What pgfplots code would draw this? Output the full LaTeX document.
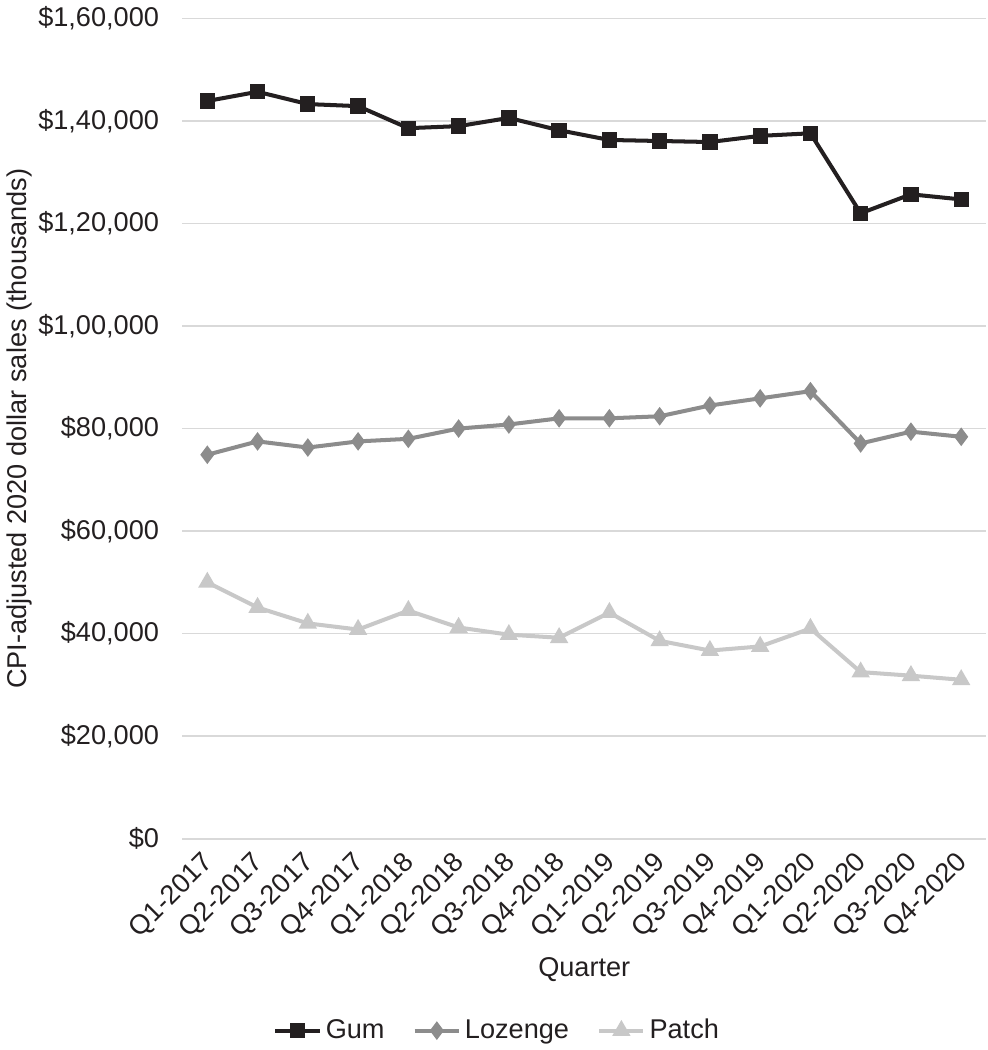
\documentclass[border=0pt]{standalone}
\usepackage{pgfplots}
\pgfplotsset{compat=1.18}
\usepackage{fontspec}
\setmainfont{Liberation Sans}
\definecolor{gumc}{HTML}{231F20}
\definecolor{lozc}{HTML}{8C8C8C}
\definecolor{patc}{HTML}{C8C8C8}
\definecolor{gridc}{HTML}{D9D9D9}
\definecolor{txtc}{HTML}{231F20}

\begin{document}
\begin{tikzpicture}
\begin{axis}[
    width=400pt, height=408pt,
    scale only axis,
    xmin=-0.5, xmax=15.5,
    ymin=0, ymax=160000,
    scaled y ticks=false,
    axis line style={draw=none},
    ymajorgrids=true,
    grid style={gridc, line width=0.8pt},
    xtick={0,...,15},
    xticklabels={Q1-2017,Q2-2017,Q3-2017,Q4-2017,Q1-2018,Q2-2018,Q3-2018,Q4-2018,Q1-2019,Q2-2019,Q3-2019,Q4-2019,Q1-2020,Q2-2020,Q3-2020,Q4-2020},
    ytick={0,20000,40000,60000,80000,100000,120000,140000,160000},
    yticklabels={{\$0},{\$20,000},{\$40,000},{\$60,000},{\$80,000},{\$1,00,000},{\$1,20,000},{\$1,40,000},{\$1,60,000}},
    major tick length=0pt,
    tick style={draw=none},
    tick label style={font=\fontsize{13.5}{15}\selectfont, text=txtc},
    yticklabel style={xshift=-8pt},
    xticklabel style={rotate=45, anchor=north east, xshift=-2.8pt, yshift=1.8pt},
    xlabel={Quarter},
    ylabel={CPI-adjusted 2020 dollar sales (thousands)},
    label style={font=\fontsize{13.5}{15}\selectfont, text=txtc},
    xlabel style={at={(axis description cs:0.5,-0.159)}, anchor=center},
    ylabel style={at={(axis description cs:-0.2025,0.5)}, anchor=center},
    legend columns=3,
    legend style={at={(axis description cs:0.393,-0.234)}, anchor=center, draw=none,
        font=\fontsize{13.5}{15}\selectfont, text=txtc,
        /tikz/every even column/.append style={column sep=12pt}},
    legend image code/.code={
        \draw[#1, mark=none] (0pt,0pt) -- (22pt,0pt);
        \draw[#1, only marks] plot coordinates {(11pt,0pt)};
    },
]
\addplot[gumc, line width=2pt, mark=square*, mark size=2.8pt, mark options={solid}] coordinates {
(0,143900)(1,145700)(2,143300)(3,142900)(4,138600)(5,139000)(6,140600)(7,138200)
(8,136300)(9,136100)(10,135900)(11,137100)(12,137600)(13,122000)(14,125700)(15,124700)
};
\addlegendentry{Gum}
\addplot[lozc, line width=2pt, mark=diamond*, mark size=3pt] coordinates {
(0,74900)(1,77500)(2,76300)(3,77500)(4,78000)(5,80000)(6,80800)(7,82000)
(8,82000)(9,82400)(10,84500)(11,85900)(12,87300)(13,77100)(14,79400)(15,78400)
};
\addlegendentry{Lozenge}
\addplot[patc, line width=2pt, mark=triangle*, mark size=3.3pt] coordinates {
(0,50000)(1,45100)(2,42000)(3,40800)(4,44500)(5,41200)(6,39800)(7,39200)
(8,44100)(9,38600)(10,36700)(11,37500)(12,41000)(13,32500)(14,31800)(15,31000)
};
\addlegendentry{Patch}
\end{axis}
\end{tikzpicture}
\end{document}
